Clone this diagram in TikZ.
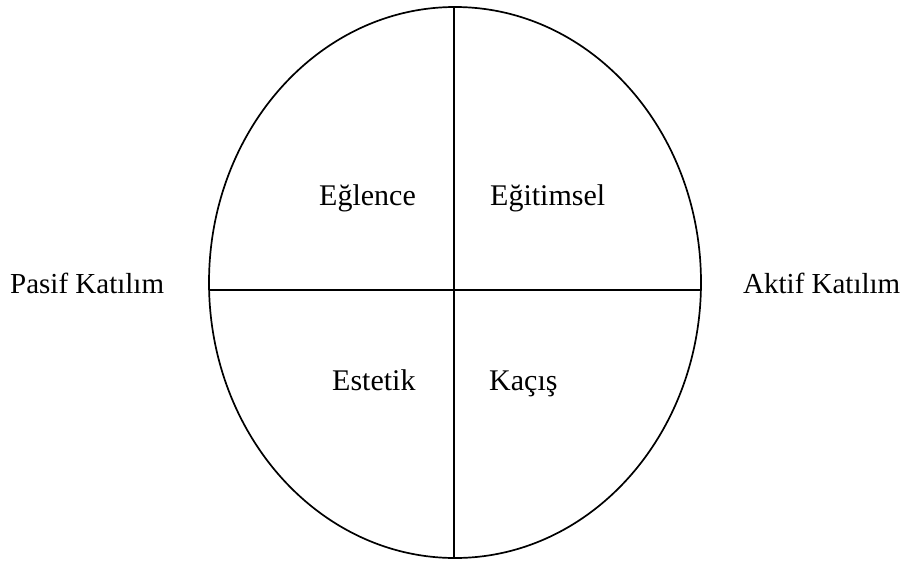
\documentclass[tikz,border=0pt]{standalone}
\usepackage{fontspec}
\setmainfont{Liberation Serif}
\usepackage{tikz}
\usetikzlibrary{positioning,calc}
\definecolor{Ink}{HTML}{000000}

\begin{document}
\begin{tikzpicture}[x=1pt,y=-1pt,
    rim/.style={draw=Ink,line width=1.7pt},
    lab/.style={anchor=base west,inner sep=0pt,font=\fontsize{30}{36}\selectfont},
    sidelab/.style={lab,font=\fontsize{29}{35}\selectfont}]
  \useasboundingbox (0,0) rectangle (905,560);
  % the circle and its two axes
  \draw[rim] (455,282.5) ellipse [x radius=246, y radius=275.5];
  \coordinate (top) at (454,7);
  \coordinate (bottom) at (454,558);
  \coordinate (left) at (209.2,290);
  \coordinate (right) at (700.8,290);
  \draw[rim] (top) -- (bottom);
  \draw[rim] (left) -- (right);
  % side labels
  \node[sidelab] (pasif) at (10,293) {Pasif Katılım};
  \node[sidelab] (aktif) at (743,293) {Aktif Katılım};
  % quadrant labels
  \foreach \x/\y/\name/\txt in {
    319/205/eglence/Eğlence,
    490/205/egitim/Eğitimsel,
    332/390/estetik/Estetik,
    489/390/kacis/Kaçış}{
    \node[lab] (\name) at (\x,\y) {\txt};
  }
\end{tikzpicture}
\end{document}
